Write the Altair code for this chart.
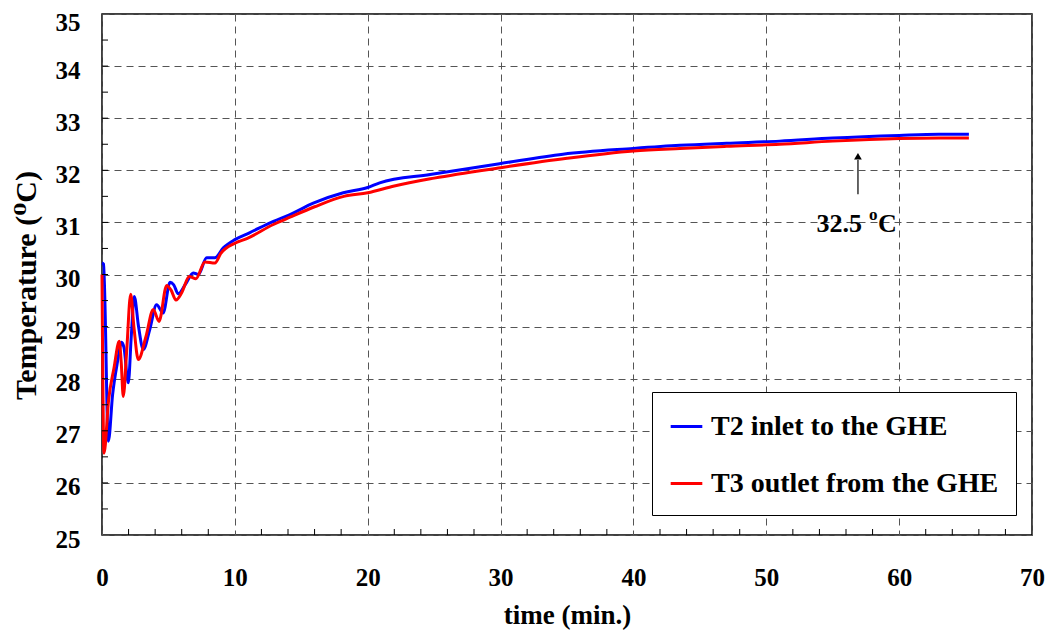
import altair as alt
import pandas as pd

# ---- data ----
t2_time = [0, 0.12, 0.48, 0.8, 1.15, 1.48, 1.65, 1.98, 2.2, 2.43, 2.75, 3.11, 3.6, 4.11,
           4.6, 5.12, 5.4, 5.74, 6.3, 6.87, 7.25, 7.88, 8.5, 9.13, 10, 11.1, 12.9, 14.15,
           15.9, 18.16, 20, 20.9, 24.7, 30, 34.7, 40, 43.5, 47, 51, 55, 60, 63, 65.25]
t2_temp = [30.22, 30.2, 26.8, 27.7, 28.3, 28.7, 28.6, 27.92, 28.8, 29.58, 29.0, 28.56, 28.95, 29.42,
           29.26, 29.85, 29.8, 29.63, 29.82, 30.03, 30.0, 30.32, 30.32, 30.51, 30.67, 30.8, 31.02, 31.15,
           31.37, 31.57, 31.67, 31.76, 31.92, 32.13, 32.31, 32.42, 32.48, 32.52, 32.56, 32.62, 32.67, 32.69, 32.69]

t3_time = [0, 0.15, 0.5, 0.9, 1.3, 1.45, 1.6, 1.85, 2.16, 2.4, 2.73, 3.3, 3.86, 4.29,
           4.87, 5.2, 5.57, 6.0, 6.57, 7.07, 7.75, 8.5, 8.93, 10, 10.9, 12.9, 14.15, 16,
           18.2, 20, 22, 25, 30, 35, 40, 43.5, 47, 51, 55, 60, 63, 65.25]
t3_temp = [30.0, 26.57, 27.6, 28.2, 28.72, 28.3, 27.66, 28.5, 29.62, 29.0, 28.37, 28.8, 29.33, 29.1,
           29.79, 29.7, 29.51, 29.65, 29.96, 29.92, 30.24, 30.22, 30.4, 30.6, 30.69, 30.96, 31.1, 31.3,
           31.5, 31.57, 31.7, 31.85, 32.05, 32.23, 32.37, 32.42, 32.46, 32.5, 32.56, 32.61, 32.62, 32.62]

series_names = ["T2 inlet to the GHE", "T3 outlet from the GHE"]
series_colors = ["#0000ff", "#ff0000"]

x_major = [0, 10, 20, 30, 40, 50, 60, 70]
y_major = [25, 26, 27, 28, 29, 30, 31, 32, 33, 34, 35]
x_minor = [2, 4, 6, 8, 12, 14, 16, 18, 22, 24, 26, 28, 32, 34, 36, 38, 42, 44, 46, 48,
           52, 54, 56, 58, 62, 64, 66, 68]
y_minor = [25.5, 26, 26.5, 27, 27.5, 28, 28.5, 29, 29.5, 30, 30.5, 31, 31.5, 32, 32.5,
           33, 33.5, 34, 34.5]

arrow_time = [56.9]
arrow_from = [31.54]
arrow_to = [32.2]
arrow_head = [32.27]
label_temp = [30.81]
label_time = [57.2]

FONT = "Liberation Serif, DejaVu Serif, serif"
W, H = 930, 521

lines_df = pd.concat([
    pd.DataFrame({"time": t2_time, "temp": t2_temp, "series": series_names[0]}),
    pd.DataFrame({"time": t3_time, "temp": t3_temp, "series": series_names[1]}),
])

xs = alt.Scale(domain=[0, 70], nice=False, zero=False)
ys = alt.Scale(domain=[25, 35], nice=False, zero=False)

x_axis = alt.Axis(values=x_major, format="d", grid=True, gridDash=[7, 5], gridColor="#555",
                  gridWidth=1, gridOpacity=1, ticks=False, domain=False,
                  labelFont=FONT, labelFontWeight="bold", labelFontSize=25, labelColor="black",
                  labelPadding=30, labelFlush=False,
                  title="time (min.)", titleFont=FONT, titleFontWeight="bold", titleFontSize=27,
                  titleColor="black", titleX=W / 2, titleY=80, titleBaseline="middle",
                  titleAlign="center")
y_axis = alt.Axis(values=y_major, format="d", grid=True, gridDash=[7, 5], gridColor="#555",
                  gridWidth=1, gridOpacity=1, ticks=False, domain=False,
                  labelFont=FONT, labelFontWeight="bold", labelFontSize=25, labelColor="black",
                  labelPadding=22, labelFlush=False,
                  labelOffset={"condition": {"test": "datum.value >= 35", "value": 8}, "value": 4},
                  title="Temperature (\u2070C)", titleFont=FONT, titleFontWeight="bold",
                  titleFontSize=30, titleColor="black", titleX=-76, titleY=271,
                  titleAngle=-90, titleBaseline="middle", titleAlign="center")

lines = alt.Chart(lines_df).mark_line(strokeWidth=3, interpolate="monotone").encode(
    x=alt.X("time:Q", scale=xs, axis=x_axis),
    y=alt.Y("temp:Q", scale=ys, axis=y_axis),
    color=alt.Color("series:N", sort=series_names,
                    scale=alt.Scale(domain=series_names, range=series_colors),
                    legend=alt.Legend(title=None, orient="none", legendX=550, legendY=378,
                                      strokeColor="black", fillColor="white", padding=17,
                                      symbolType="stroke", symbolStrokeWidth=3, symbolSize=1000,
                                      labelFont=FONT, labelFontWeight="bold", labelFontSize=28,
                                      labelColor="black", labelOffset=7, labelLimit=500,
                                      rowPadding=25)),
    order=alt.Order("time:Q"),
)

yt = alt.Chart(pd.DataFrame({"v": y_minor})).mark_rule(color="black", strokeWidth=1).encode(
    y=alt.Y("v:Q", scale=ys), x=alt.value(0), x2=alt.value(6))
xt = alt.Chart(pd.DataFrame({"v": x_minor})).mark_rule(color="black", strokeWidth=1).encode(
    x=alt.X("v:Q", scale=xs), y=alt.value(H), y2=alt.value(H - 6))

arrow_df = pd.DataFrame({"t": arrow_time, "a": arrow_from, "b": arrow_to, "h": arrow_head,
                         "lt": label_time, "ly": label_temp})
arrow = alt.Chart(arrow_df).mark_rule(color="#333", strokeWidth=1.5).encode(
    x=alt.X("t:Q", scale=xs), y=alt.Y("a:Q", scale=ys), y2="b:Q")
head = alt.Chart(arrow_df).mark_point(shape="triangle-up", filled=True, color="black",
                                      size=60, opacity=1).encode(
    x=alt.X("t:Q", scale=xs), y=alt.Y("h:Q", scale=ys))
txt_main = alt.Chart(arrow_df).mark_text(text="32.5", font=FONT, fontWeight="bold", fontSize=26,
                                         align="right", baseline="alphabetic", color="black").encode(
    x=alt.X("lt:Q", scale=xs), y=alt.Y("ly:Q", scale=ys))
txt_o = alt.Chart(arrow_df).mark_text(text="o", font=FONT, fontWeight="bold", fontSize=17,
                                      align="left", baseline="alphabetic", color="black",
                                      dx=7, dy=-12).encode(
    x=alt.X("lt:Q", scale=xs), y=alt.Y("ly:Q", scale=ys))
txt_c = alt.Chart(arrow_df).mark_text(text="C", font=FONT, fontWeight="bold", fontSize=26,
                                      align="left", baseline="alphabetic", color="black",
                                      dx=16).encode(
    x=alt.X("lt:Q", scale=xs), y=alt.Y("ly:Q", scale=ys))

chart = alt.layer(lines, yt, xt, arrow, head, txt_main, txt_o, txt_c).properties(
    width=W, height=H,
    autosize=alt.AutoSizeParams(type="none"),
    padding={"left": 94, "top": 6, "right": 14, "bottom": 97},
    background="white",
).configure_view(stroke="black", strokeWidth=1.5)

chart.save("out.html", embed_options={"renderer": "svg", "actions": False})
